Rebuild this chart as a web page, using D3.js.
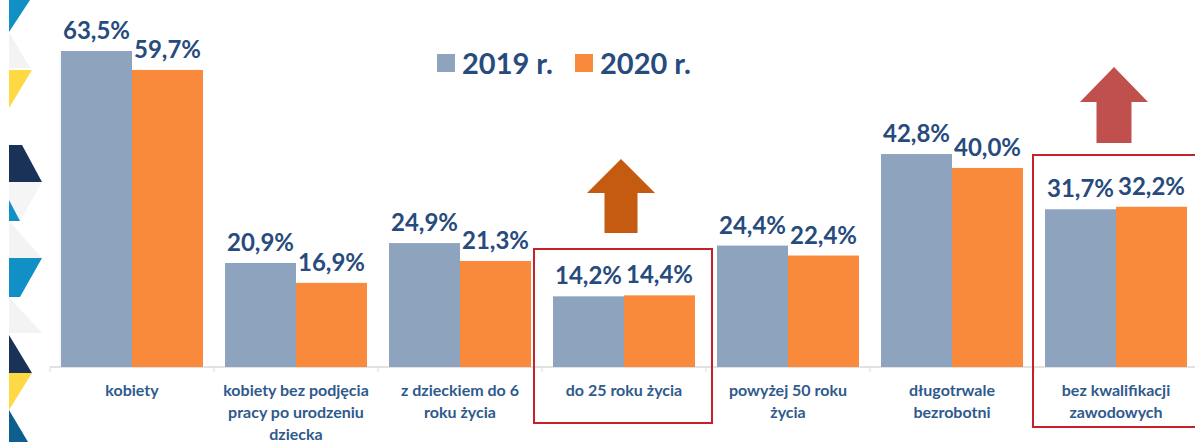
<!DOCTYPE html>
<html><head><meta charset="utf-8">
<script src="https://cdn.jsdelivr.net/npm/d3@7"></script>
<style>body{margin:0;background:#fff}svg{display:block}</style>
</head><body>
<svg id="c" width="1195" height="442"></svg>
<script>
const categories = ["kobiety", "kobiety bez podjęcia\npracy po urodzeniu\ndziecka", "z dzieckiem do 6\nroku życia", "do 25 roku życia", "powyżej 50 roku\nżycia", "długotrwale\nbezrobotni", "bez kwalifikacji\nzawodowych"];
const series = ["2019 r.", "2020 r."];
const values2019 = [63.5, 20.9, 24.9, 14.2, 24.4, 42.8, 31.7];
const values2020 = [59.7, 16.9, 21.3, 14.4, 22.4, 40.0, 32.2];
const highlighted = ["do 25 roku życia", "bez kwalifikacji\nzawodowych"];

const colors = ["#8EA3BD", "#FA8A3B"];
const svg = d3.select("#c");
const font = "Lato, 'Liberation Sans', sans-serif";

// left decoration
const deco = [
  {c:"#1090C4", p:[[9,0],[30,0],[9,32]]},
  {c:"#F3F3F3", p:[[9,32],[30,68],[9,68]]},
  {c:"#FFD944", p:[[9,70],[32,70],[9,108]]},
  {c:"#1B3258", p:[[9,145],[22,145],[42,182],[9,182]]},
  {c:"#F5F5F5", p:[[9,182],[42,182],[20,221],[9,221]]},
  {c:"#1090C4", p:[[9,200],[20,221],[9,221]]},
  {c:"#F3F3F3", p:[[9,221],[42,258],[9,258]]},
  {c:"#1090C4", p:[[9,258],[42,258],[20,297],[9,297]]},
  {c:"#F3F3F3", p:[[9,297],[42,333],[9,333]]},
  {c:"#1B3258", p:[[9,335],[32,373],[9,373]]},
  {c:"#FFD944", p:[[9,373],[32,373],[9,410]]},
  {c:"#0F5F8E", p:[[9,410],[28,442],[9,442]]}
];
svg.append("g").selectAll("polygon").data(deco).join("polygon")
  .attr("points", d => d.p.map(q => q.join(",")).join(" "))
  .attr("fill", d => d.c);

const x0 = d3.scaleBand().domain(categories).range([50, 1198]).paddingInner(22/164).paddingOuter(11/164);
const x1 = d3.scaleBand().domain(series).range([0, x0.bandwidth()]);
const y = d3.scaleLinear().domain([0, 70]).range([367, 367 - 70 * 4.976]);

// faint plot frame line
svg.append("line").attr("x1", 60).attr("x2", 60).attr("y1", 50).attr("y2", 367).attr("stroke", "#F0F0F0");

// axis
const axis = d3.axisBottom(x0).tickSize(0).tickFormat("");
const ag = svg.append("g").attr("transform", `translate(0,${y(0)})`).call(axis);
ag.select(".domain").attr("stroke", "#D9D9D9").attr("stroke-width", 1.5).attr("d", "M50,0H1198");
const bounds = categories.map(c => x0(c) - x0.step() * x0.paddingInner() / 2).concat([1198]);
ag.selectAll(".tk").data(bounds).join("line").attr("class", "tk")
  .attr("x1", d => d).attr("x2", d => d).attr("y1", 0).attr("y2", 5)
  .attr("stroke", "#D9D9D9").attr("stroke-width", 1);

const data = categories.map((c, i) => ({c, v: [values2019[i], values2020[i]]}));
const g = svg.append("g").selectAll("g").data(data).join("g").attr("transform", d => `translate(${x0(d.c)},0)`);
g.selectAll("rect").data(d => d.v.map((v, j) => ({v, s: series[j], j}))).join("rect")
  .attr("x", d => x1(d.s)).attr("width", x1.bandwidth())
  .attr("y", d => y(d.v)).attr("height", d => y(0) - y(d.v))
  .attr("fill", d => colors[d.j]);
g.selectAll("text.v").data(d => d.v.map((v, j) => ({v, s: series[j], j}))).join("text").attr("class", "v")
  .attr("x", d => x1(d.s) + x1.bandwidth() / 2).attr("y", d => y(d.v) - 12)
  .attr("text-anchor", "middle").attr("font-family", font).attr("font-weight", "bold")
  .attr("font-size", 24).attr("fill", "#274B7D")
  .text(d => d.v.toFixed(1).replace(".", ",") + "%");

// category labels
const cl = svg.append("g").selectAll("text").data(categories).join("text")
  .attr("x", d => x0(d) + x0.bandwidth() / 2).attr("y", 396)
  .attr("text-anchor", "middle").attr("font-family", font).attr("font-weight", "bold")
  .attr("font-size", 16).attr("fill", "#2F5A8C");
cl.each(function(d) {
  const t = d3.select(this);
  d.split("\n").forEach((line, i) => {
    t.append("tspan").attr("x", x0(d) + x0.bandwidth() / 2).attr("dy", i ? 22 : 0).text(line);
  });
});

// legend
const leg = svg.append("g");
const legX = [437, 575];
series.forEach((s, i) => {
  leg.append("rect").attr("x", legX[i]).attr("y", 54).attr("width", 18).attr("height", 18).attr("fill", colors[i]);
  leg.append("text").attr("x", legX[i] + 25).attr("y", 74).attr("font-family", font).attr("font-weight", "bold")
    .attr("font-size", 29).attr("fill", "#274B7D").text(s);
});

// highlight boxes
const boxes = [
  {c: highlighted[0], x: 534, w: 178, y: 249, h: 174},
  {c: highlighted[1], x: 1033, w: 175, y: 155, h: 272}
];
svg.append("g").selectAll("rect").data(boxes).join("rect")
  .attr("x", d => d.x).attr("y", d => d.y).attr("width", d => d.w).attr("height", d => d.h)
  .attr("fill", "none").attr("stroke", "#C8202A").attr("stroke-width", 2);

// arrows
const arrows = [
  {c: "#C55A11", cx: 621, tip: 159, hb: 193, hw: 34, sw: 16.5, bot: 233},
  {c: "#C0504D", cx: 1114, tip: 67, hb: 102, hw: 34, sw: 17.5, bot: 143}
];
svg.append("g").selectAll("path").data(arrows).join("path")
  .attr("d", d => `M${d.cx},${d.tip}L${d.cx + d.hw},${d.hb}L${d.cx + d.sw},${d.hb}L${d.cx + d.sw},${d.bot}L${d.cx - d.sw},${d.bot}L${d.cx - d.sw},${d.hb}L${d.cx - d.hw},${d.hb}Z`)
  .attr("fill", d => d.c);
</script>
</body></html>
